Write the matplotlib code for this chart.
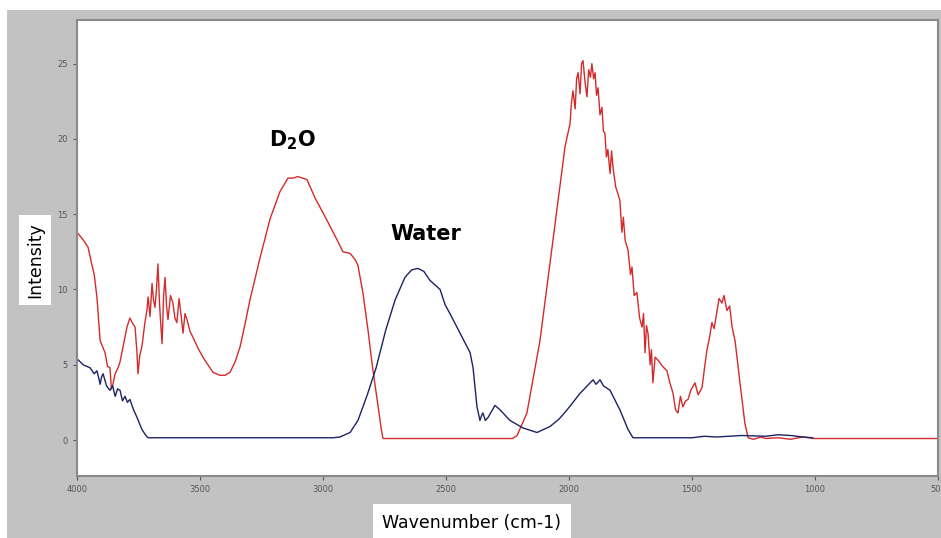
import matplotlib
matplotlib.use("Agg")
import matplotlib.pyplot as plt
from matplotlib.patches import Rectangle

# D2O spectrum (red)
d2o_wn = [4000, 3975, 3955, 3939, 3930, 3919, 3906, 3896, 3886, 3876, 3866, 3860, 3854, 3845,
          3833, 3825, 3813, 3797, 3785, 3772, 3764, 3757, 3752, 3745, 3736, 3724, 3716, 3711,
          3703, 3695, 3689, 3683, 3677, 3671, 3665, 3660, 3654, 3648, 3642, 3636, 3630, 3620,
          3610, 3602, 3594, 3585, 3577, 3569, 3561, 3553, 3540, 3528, 3508, 3488, 3468, 3447,
          3419, 3398, 3378, 3357, 3337, 3317, 3297, 3256, 3215, 3175, 3142, 3120, 3102, 3065,
          3033, 2984, 2943, 2919, 2890, 2870, 2858, 2838, 2817, 2800, 2780, 2762, 2756, 2230,
          2211, 2171, 2118, 2065, 2016, 1996, 1990, 1984, 1975, 1969, 1963, 1955, 1949, 1943,
          1935, 1927, 1920, 1913, 1907, 1900, 1894, 1888, 1882, 1874, 1866, 1860, 1854, 1848,
          1842, 1833, 1827, 1821, 1810, 1800, 1793, 1785, 1779, 1772, 1760, 1750, 1744, 1735,
          1724, 1713, 1703, 1697, 1691, 1685, 1679, 1670, 1665, 1659, 1650, 1638, 1620, 1602,
          1590, 1577, 1567, 1557, 1547, 1537, 1526, 1516, 1505, 1488, 1475, 1459, 1449, 1439,
          1429, 1419, 1410, 1398, 1390, 1378, 1370, 1358, 1347, 1337, 1325, 1305, 1285, 1272,
          1250, 1220, 1200, 1150, 1100, 1050, 1000, 500]
d2o_int = [13.8, 13.3, 12.8, 11.6, 11.0, 9.5, 6.6, 6.2, 5.8, 4.9, 4.8, 3.4, 3.7, 4.4,
           4.8, 5.2, 6.2, 7.5, 8.1, 7.7, 7.5, 6.0, 4.4, 5.6, 6.2, 7.8, 8.6, 9.5,
           8.2, 10.4, 9.3, 8.8, 10.0, 11.7, 9.2, 7.8, 6.4, 9.6, 10.8, 8.9, 8.0, 9.6,
           9.1, 8.1, 7.8, 9.4, 8.3, 7.1, 8.4, 8.0, 7.2, 6.8, 6.1, 5.5, 5.0, 4.5,
           4.3, 4.3, 4.5, 5.2, 6.2, 7.7, 9.3, 12.1, 14.7, 16.5, 17.4, 17.4, 17.5, 17.3,
           16.1, 14.6, 13.3, 12.5, 12.4, 12.0, 11.6, 9.8, 7.3, 5.0, 2.7, 0.6, 0.1, 0.1,
           0.3, 1.8, 6.6, 13.3, 19.5, 21.0, 22.4, 23.2, 22.0, 24.0, 24.4, 23.0, 25.0, 25.2,
           23.8, 22.8, 24.6, 24.1, 25.0, 24.0, 24.4, 22.9, 23.4, 21.6, 22.1, 20.5, 20.4, 18.8,
           19.3, 17.7, 19.2, 18.1, 16.8, 16.3, 15.9, 13.8, 14.8, 13.3, 12.6, 11.0, 11.5, 9.6,
           9.8, 8.1, 7.5, 8.4, 5.8, 7.6, 7.1, 5.0, 6.0, 3.8, 5.5, 5.3, 4.9, 4.6,
           3.8, 3.1, 2.0, 1.8, 2.9, 2.2, 2.6, 2.7, 3.3, 3.8, 3.0, 3.5, 4.8, 6.0,
           6.8, 7.8, 7.4, 8.6, 9.4, 9.1, 9.6, 8.6, 8.9, 7.5, 6.6, 3.8, 1.1, 0.15,
           0.05, 0.2, 0.1, 0.15, 0.05, 0.2, 0.1, 0.1]

# Water spectrum (blue)
water_wn = [4000, 3975, 3947, 3930, 3919, 3910, 3906, 3900, 3894, 3880, 3866, 3855, 3845,
            3835, 3825, 3815, 3805, 3795, 3785, 3770, 3756, 3736, 3720, 3711, 2960, 2931,
            2890, 2858, 2820, 2784, 2745, 2707, 2667, 2640, 2614, 2590, 2565, 2524, 2504,
            2484, 2443, 2402, 2390, 2374, 2362, 2356, 2350, 2340, 2329, 2301, 2280, 2240,
            2187, 2130, 2077, 2040, 2008, 1955, 1920, 1902, 1890, 1874, 1860, 1833, 1793,
            1760, 1740, 1500, 1450, 1400, 1300, 1200, 1150, 1100, 1050, 1010]
water_int = [5.4, 5.0, 4.8, 4.4, 4.6, 4.0, 3.7, 4.2, 4.4, 3.6, 3.3, 3.6, 2.9,
             3.4, 3.3, 2.6, 2.9, 2.5, 2.7, 2.0, 1.5, 0.7, 0.3, 0.15, 0.15, 0.2,
             0.5, 1.3, 3.0, 4.8, 7.3, 9.3, 10.8, 11.3, 11.4, 11.2, 10.6, 10.0, 9.0,
             8.4, 7.1, 5.8, 4.8, 2.2, 1.3, 1.6, 1.8, 1.3, 1.5, 2.3, 2.0, 1.3,
             0.8, 0.5, 0.9, 1.4, 2.0, 3.1, 3.7, 4.0, 3.7, 4.0, 3.6, 3.3, 2.0,
             0.7, 0.15, 0.15, 0.25, 0.2, 0.3, 0.25, 0.35, 0.3, 0.2, 0.15]

x_ticks = [4000, 3500, 3000, 2500, 2000, 1500, 1000, 500]
y_ticks = [0, 5, 10, 15, 20, 25]

fig = plt.figure(figsize=(9.41, 5.38), dpi=100, facecolor="white")
fig.patches.append(Rectangle((7 / 941, 0), 1, 1 - 10 / 538, transform=fig.transFigure,
                             facecolor="#c2c2c2", edgecolor="none", zorder=-10))

ax = fig.add_axes([77 / 941, 1 - 476 / 538, 861 / 941, 456 / 538])
ax.set_facecolor("white")
ax.plot(d2o_wn, d2o_int, color="#d42a2a", lw=1.0)
ax.plot(water_wn, water_int, color="#1c2266", lw=1.0)

ax.set_xlim(4000, 500)
ax.set_ylim(-2.39, 27.9)
ax.set_xticks(x_ticks)
ax.set_yticks(y_ticks)
ax.tick_params(labelsize=6, colors="#555555", length=3, width=0.8)
for s in ax.spines.values():
    s.set_color("#8a8a8a")
    s.set_linewidth(1.5)

fig.text(292 / 941, 1 - 140 / 538, r"$\mathbf{D_2O}$", fontsize=15,
         ha="center", va="center")
fig.text(426 / 941, 1 - 234 / 538, "Water", fontsize=15, fontweight="bold",
         ha="center", va="center")

fig.text(472 / 941, 1 - 523 / 538, "Wavenumber (cm-1)", fontsize=12.5,
         ha="center", va="center",
         bbox=dict(facecolor="white", edgecolor="none", pad=7))
fig.text(35 / 941, 1 - 260 / 538, "Intensity", fontsize=12.5, rotation=90,
         ha="center", va="center",
         bbox=dict(facecolor="white", edgecolor="none", pad=5))

fig.savefig("out.png", dpi=100, facecolor=fig.get_facecolor())
